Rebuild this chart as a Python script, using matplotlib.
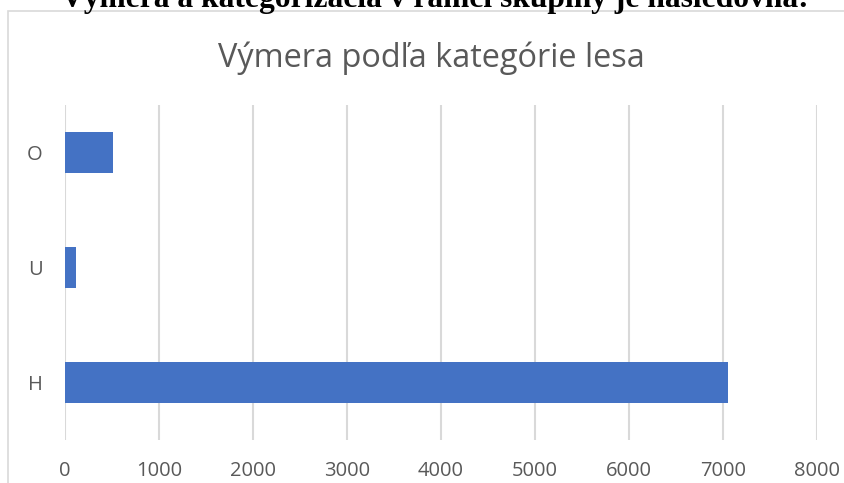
import matplotlib
matplotlib.use("Agg")
import matplotlib.pyplot as plt
from matplotlib.patches import Rectangle

categories = ["H", "U", "O"]
values = [7060, 120, 510]
x_ticks = [0, 1000, 2000, 3000, 4000, 5000, 6000, 7000, 8000]
chart_title = "Výmera podľa kategórie lesa"
page_text = "Výmera a kategorizácia v rámci skupiny je nasledovná:"

W, H = 845, 483
fig = plt.figure(figsize=(W / 100, H / 100), dpi=100)
fig.patch.set_facecolor("white")

# outer chart border (extends beyond right/bottom edges)
fig.patches.append(Rectangle((8 / W, -0.1), 1.2, 1 - 11 / H + 0.1,
                             transform=fig.transFigure, fill=False,
                             edgecolor="#D9D9D9", linewidth=1.2))

# page text clipped at the top
fig.text(435 / W, 1 - 6.5 / H, page_text, ha="center", va="baseline",
         fontsize=22.7, fontweight="bold", family="Liberation Serif", color="black")

ax = fig.add_axes([65 / W, 1 - 440 / H, (816.7 - 65) / W, (440 - 105) / H])
gray = "#595959"
ax.barh(range(len(categories)), values, height=0.357, color="#4472C4", zorder=3)
ax.set_xlim(0, 8000)
ax.set_ylim(-0.5, 2.413)
ax.set_xticks(x_ticks)
ax.set_xticklabels([str(t) for t in x_ticks])
ax.set_yticks(range(len(categories)))
ax.set_yticklabels(categories)
for s in ax.spines.values():
    s.set_visible(False)
ax.tick_params(axis="both", length=0, colors=gray, labelsize=14.5)
ax.tick_params(axis="x", pad=15)
ax.tick_params(axis="y", pad=16)
for lab in ax.get_xticklabels() + ax.get_yticklabels():
    lab.set_family("Open Sans")
ax.grid(axis="x", color="#D9D9D9", linewidth=1.5, zorder=0)
ax.set_axisbelow(True)

fig.text(431.5 / W, 1 - 67 / H, chart_title, ha="center", va="baseline",
         fontsize=23.4, family="Open Sans", color=gray)

fig.savefig("out.png", dpi=100, facecolor="white")
